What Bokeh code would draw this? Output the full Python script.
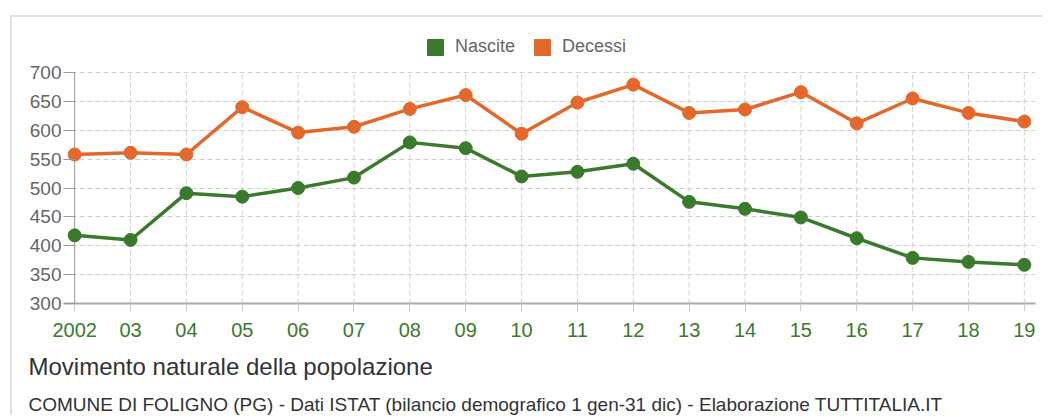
from bokeh.plotting import figure
from bokeh.models import (ColumnDataSource, FixedTicker, Legend, LegendItem, Title,
                          Range1d)
from bokeh.embed import file_html
from bokeh.resources import INLINE

years = [2002, 2003, 2004, 2005, 2006, 2007, 2008, 2009, 2010,
         2011, 2012, 2013, 2014, 2015, 2016, 2017, 2018, 2019]
year_labels = ["2002", "03", "04", "05", "06", "07", "08", "09", "10",
               "11", "12", "13", "14", "15", "16", "17", "18", "19"]
nascite = [418, 410, 491, 485, 500, 518, 579, 569, 520,
           528, 542, 476, 464, 449, 413, 379, 372, 367]
decessi = [558, 561, 558, 640, 596, 606, 637, 661, 594,
           648, 679, 630, 636, 666, 612, 655, 630, 615]
y_ticks = [300, 350, 400, 450, 500, 550, 600, 650, 700]

GREEN = "#3b7a2c"
ORANGE = "#e2692b"
FONT = "Liberation Sans"

y_lo, y_hi = y_ticks[0], y_ticks[-1]
# plot area extends above the top tick to host the legend
y_top = y_lo + (y_hi - y_lo) * 273 / 231

src = ColumnDataSource(dict(x=years, n=nascite, d=decessi))

p = figure(frame_width=972, frame_height=273,
           min_border_left=51, min_border_right=8,
           min_border_top=13, min_border_bottom=20,
           x_range=Range1d(years[0] - 0.2, years[-1] + 0.2),
           y_range=Range1d(y_lo, y_top),
           output_backend="svg", toolbar_location=None,
           background_fill_color="white", border_fill_color="white")
p.outline_line_color = None
p.styles = {"border-top": "2px solid #e0e0e0", "border-left": "2px solid #e0e0e0",
            "margin-left": "10px", "margin-top": "15px"}

# grids
p.xgrid.grid_line_color = None
p.ygrid.grid_line_color = "#d0d0d0"
p.ygrid.grid_line_dash = "5 3"
p.ygrid.grid_line_width = 1
p.segment(x0=years[1:], y0=y_lo, x1=years[1:], y1=y_hi,
          line_color="#d0d0d0", line_dash="5 3", line_width=1)
# y axis line
p.segment(x0=[years[0]], y0=[y_lo], x1=[years[0]], y1=[y_hi],
          line_color="#999999", line_width=1)

# x axis
p.xaxis.ticker = FixedTicker(ticks=years)
p.xaxis.major_label_overrides = {y: l for y, l in zip(years, year_labels)}
p.xaxis.major_label_text_color = GREEN
p.xaxis.major_label_text_font = FONT
p.xaxis.major_label_text_font_size = "20px"
p.xaxis.major_label_standoff = 11
p.xaxis.axis_line_color = "#aaaaaa"
p.xaxis.axis_line_width = 2
p.xaxis.major_tick_line_color = "#cccccc"
p.xaxis.major_tick_out = 8
p.xaxis.major_tick_in = 0
p.xaxis.minor_tick_line_color = None

# y axis
p.yaxis.ticker = FixedTicker(ticks=y_ticks)
p.yaxis.major_label_text_color = "#666666"
p.yaxis.major_label_text_font = FONT
p.yaxis.major_label_text_font_size = "19px"
p.yaxis.major_label_standoff = 2
p.yaxis.axis_line_color = None
p.yaxis.major_tick_line_color = "#999999"
p.yaxis.major_tick_in = 12
p.yaxis.major_tick_out = 0
p.yaxis.minor_tick_line_color = None

# series
p.line("x", "n", source=src, line_color=GREEN, line_width=3.5)
p.scatter("x", "n", source=src, size=13, fill_color=GREEN, line_color=GREEN)
p.line("x", "d", source=src, line_color=ORANGE, line_width=3.5)
p.scatter("x", "d", source=src, size=13, fill_color=ORANGE, line_color=ORANGE)

# legend with square swatches (hidden proxy renderers)
sq_n = p.quad(left=[2010], right=[2010], bottom=[500], top=[500],
              fill_color=GREEN, line_color=GREEN, visible=False)
sq_d = p.quad(left=[2010], right=[2010], bottom=[500], top=[500],
              fill_color=ORANGE, line_color=ORANGE, visible=False)
legend = Legend(items=[LegendItem(label="Nascite", renderers=[sq_n]),
                       LegendItem(label="Decessi", renderers=[sq_d])],
                location=(362, 246), orientation="horizontal",
                glyph_width=20, glyph_height=20, padding=0, margin=0,
                spacing=17, label_standoff=10,
                label_text_font=FONT, label_text_font_size="18px",
                label_text_color="#666666",
                border_line_alpha=0, background_fill_alpha=0)
p.add_layout(legend, "center")

# title / subtitle below
t1 = Title(text="Movimento naturale della popolazione", align="left", offset=-35,
           text_font=FONT, text_font_size="24px", text_font_style="normal",
           text_color="#333333", standoff=23)
t2 = Title(text="COMUNE DI FOLIGNO (PG) - Dati ISTAT (bilancio demografico 1 gen-31 dic) - Elaborazione TUTTITALIA.IT",
           align="left", offset=-35,
           text_font=FONT, text_font_size="19px", text_font_style="normal",
           text_color="#333333", standoff=1)
p.add_layout(t1, "below")
p.add_layout(t2, "below")

open("out.html", "w").write(file_html(p, INLINE))
